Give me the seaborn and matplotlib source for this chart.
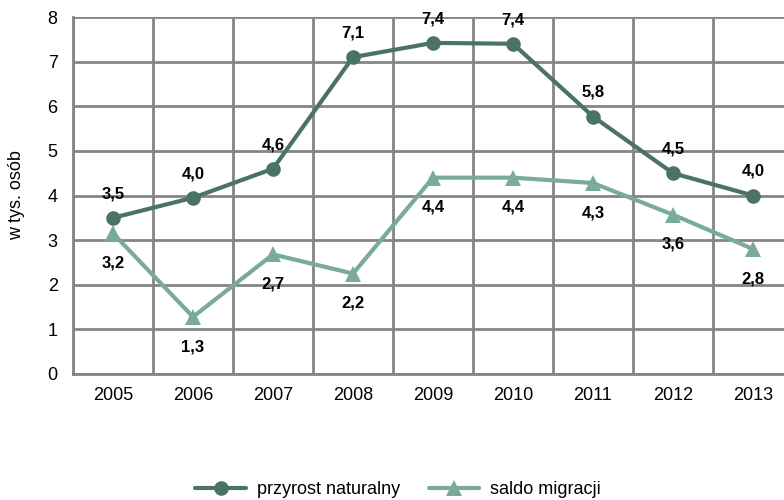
import pandas as pd
import matplotlib
matplotlib.use("Agg")
import matplotlib.pyplot as plt
import seaborn as sns

years = ["2005", "2006", "2007", "2008", "2009", "2010", "2011", "2012", "2013"]
przyrost = [3.5, 3.95, 4.6, 7.1, 7.42, 7.4, 5.77, 4.5, 4.0]
przyrost_lbl = ["3,5", "4,0", "4,6", "7,1", "7,4", "7,4", "5,8", "4,5", "4,0"]
saldo = [3.15, 1.28, 2.68, 2.25, 4.4, 4.4, 4.28, 3.57, 2.8]
saldo_lbl = ["3,2", "1,3", "2,7", "2,2", "4,4", "4,4", "4,3", "3,6", "2,8"]

sns.set_style("white")
plt.rcParams['font.family'] = ['Liberation Sans', 'DejaVu Sans']
plt.rcParams['text.color'] = 'black'
plt.rcParams['xtick.color'] = 'black'
plt.rcParams['ytick.color'] = 'black'
plt.rcParams['axes.labelcolor'] = 'black'

dark = "#4a7361"
light = "#7aab97"

df = pd.DataFrame({"x": range(len(years)), "przyrost": przyrost, "saldo": saldo})

fig = plt.figure(figsize=(7.84, 5), dpi=100)
ax = fig.add_axes([73 / 784, 1 - 374 / 500, 720 / 784, 357 / 500])

sns.lineplot(data=df, x="x", y="saldo", ax=ax, color=light, linewidth=3,
             marker="^", markersize=11, markeredgewidth=0, label="saldo migracji",
             zorder=3)
sns.lineplot(data=df, x="x", y="przyrost", ax=ax, color=dark, linewidth=3,
             marker="o", markersize=10.5, markeredgewidth=0, label="przyrost naturalny",
             zorder=4)

for i in range(len(years)):
    ax.annotate(przyrost_lbl[i], (i, przyrost[i]), xytext=(0, 12), textcoords="offset points",
                ha="center", va="bottom", fontsize=12, fontweight="bold")
    ax.annotate(saldo_lbl[i], (i, saldo[i]), xytext=(0, -16), textcoords="offset points",
                ha="center", va="top", fontsize=12, fontweight="bold")

ax.set_xlim(-0.5, len(years) - 0.5)
ax.set_ylim(0, 8)
ax.set_yticks(range(0, 9))
ax.set_xticks([i + 0.5 for i in range(-1, len(years))], minor=False)
ax.set_xticklabels([])
ax.set_xticks(range(len(years)), minor=True)
ax.set_xticklabels(years, minor=True)
ax.tick_params(axis="x", which="major", length=5, width=2, color="#808080", direction="out")
ax.tick_params(axis="x", which="minor", length=0, labelsize=13, pad=9)
ax.tick_params(axis="y", length=5, width=2, color="#808080", labelsize=13, pad=6)
ax.grid(True, which="major", color="#858585", linewidth=2)
ax.set_axisbelow(True)
for s in ax.spines.values():
    s.set_visible(False)
for side in ["left", "bottom"]:
    ax.spines[side].set_visible(True)
    ax.spines[side].set_color("#858585")
    ax.spines[side].set_linewidth(2)

ax.set_xlabel("")
ax.set_ylabel("w tys. osób", fontsize=13, labelpad=16)

h, l = ax.get_legend_handles_labels()
ax.legend([h[1], h[0]], [l[1], l[0]], loc="center", bbox_to_anchor=(398 / 784, 10 / 500),
          bbox_transform=fig.transFigure, ncol=2, frameon=False, fontsize=13,
          handlelength=2.8, columnspacing=1.6, handletextpad=0.6)

fig.savefig("out.png", dpi=100)
